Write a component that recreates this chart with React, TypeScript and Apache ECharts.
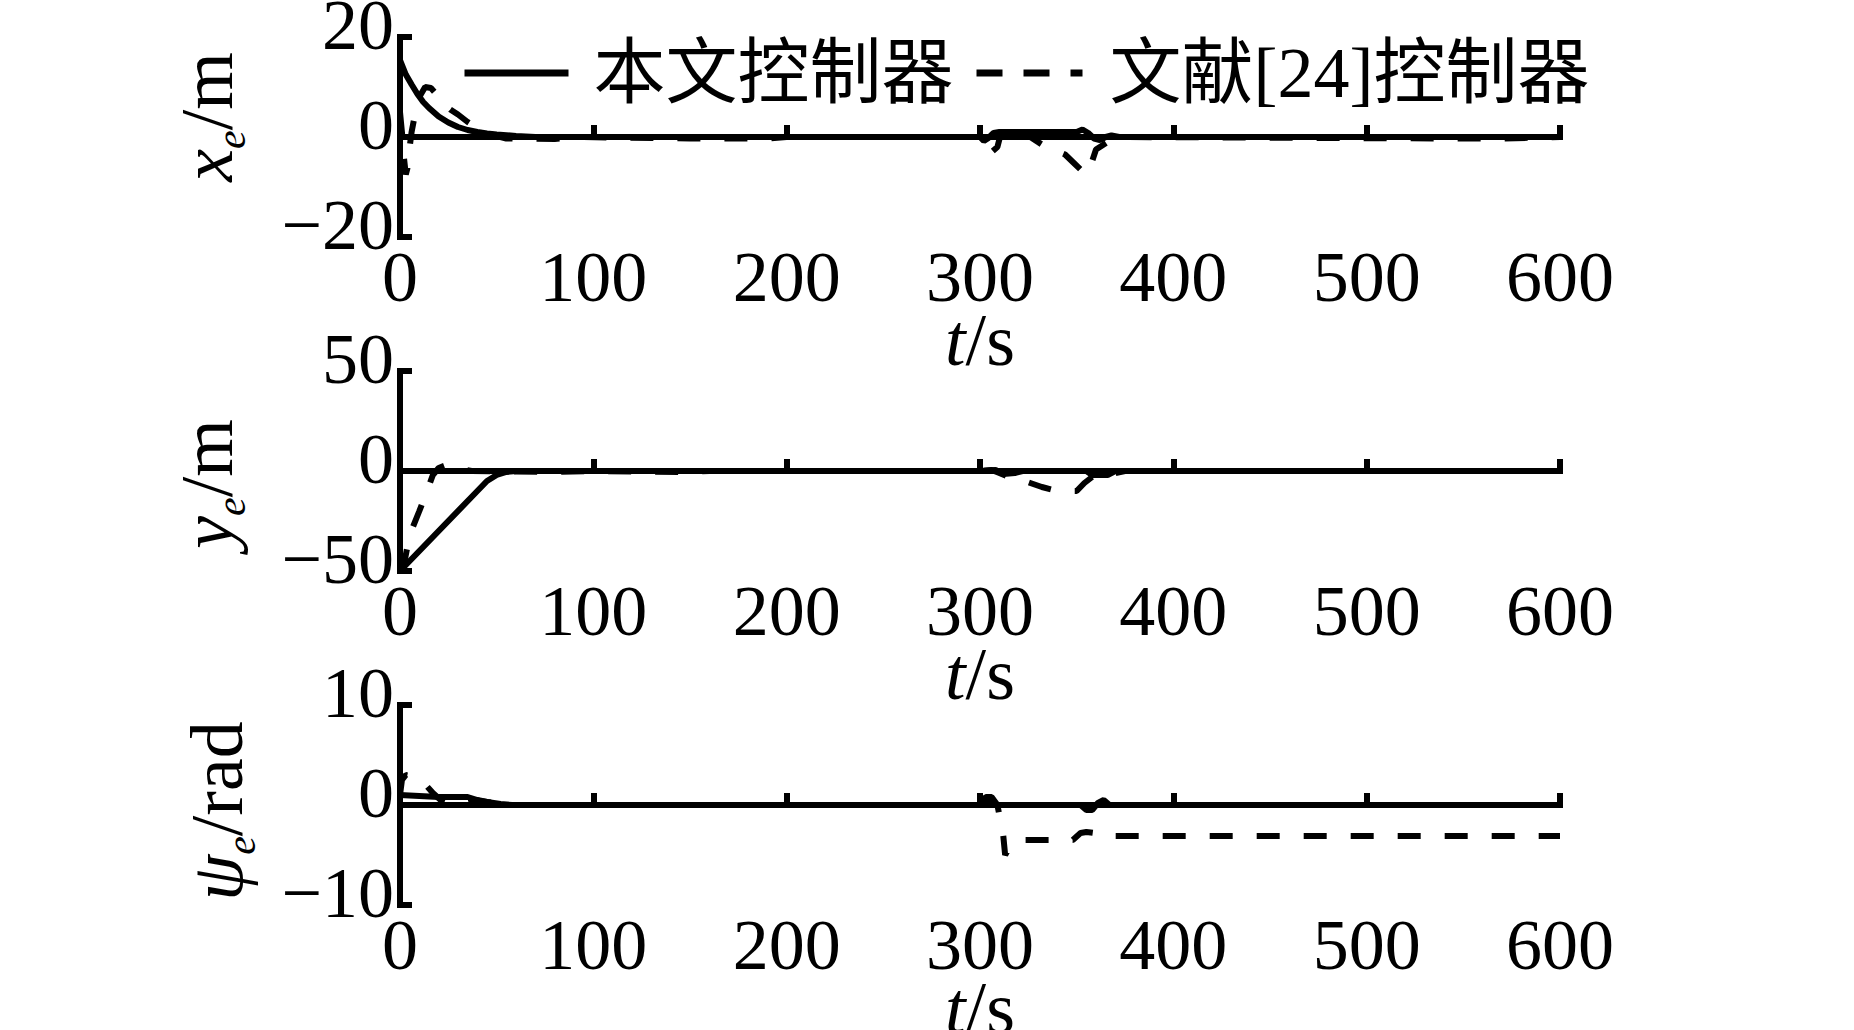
import React, { useEffect, useRef } from "react";
import * as echarts from "echarts";

// ---- tick values ----
const X_MIN = 0;
const X_MAX = 600;
const X_STEP = 100;
const XE_RANGE = [-20, 20, 20];
const YE_RANGE = [-50, 50, 50];
const PSI_RANGE = [-10, 10, 10];

const NAME_OURS = "本文控制器";
const NAME_REF = "文献[24]控制器";

// ---- panel 1: x_e (m) ----
const xeOursT = [0, 3, 6, 9, 12, 15, 20, 25, 30, 35, 40, 45, 50, 60, 70, 300, 302, 304, 307, 310, 350, 353, 356, 359, 362, 365, 368, 372, 600];
const xeOursV = [15.4, 12.5, 10.5, 8.6, 7, 5.8, 4.1, 2.9, 2, 1.4, 1, 0.7, 0.5, 0.2, 0, 0, -0.8, -0.3, 0.8, 1, 1, 1.5, 0.8, -0.3, -0.6, 0, 0.3, 0, 0];
const xeRefT = [0, 1, 2, 3, 4, 5, 6, 8, 10, 13, 16, 19, 22, 26, 30, 35, 40, 45, 50, 55, 80, 90, 150, 190, 200, 300, 303, 306, 309, 311, 314, 318, 322, 326, 332, 338, 344, 348, 352, 355, 357, 360, 364, 368, 372, 540, 570, 600];
const xeRefV = [5, 1, -4, -7.5, -6, -2, 1, 5, 8, 10, 9.8, 8.5, 7, 5.5, 4.5, 3, 1.8, 0.8, 0.2, -0.3, -0.4, 0, -0.3, -0.3, 0, 0, 0.5, -3, -2, 1, 0, -1, 0.4, 0, -1.5, -2.5, -3.5, -5, -6.5, -7.5, -6, -2.5, -1.5, -0.5, 0, -0.3, -0.3, 0];

// ---- panel 2: y_e (m) ----
const yeOursT = [0, 40, 45, 50, 55, 60, 300, 308, 312, 318, 322, 355, 358, 366, 370, 600];
const yeOursV = [-50, -10, -5, -2, -0.5, 0, 0, 0.5, -1.5, -1, 0, 0, -2, -2, 0, 0];
const yeRefT = [0, 2, 5, 10, 14, 17, 20, 24, 28, 32, 37, 80, 100, 150, 160, 300, 306, 310, 315, 320, 326, 332, 338, 345, 350, 354, 358, 364, 368, 375, 480, 485, 490, 600];
const yeRefV = [-50, -47, -32, -20, -10, -2, 1.5, 3, 2.5, 1, 0, -0.5, 0, -0.5, 0, 0, 0.5, -1, -3, -4, -6, -8, -9.5, -10, -10, -6, -3, -3, -1.5, 0, 0, 0.5, 0, 0];

// ---- panel 3: psi_e (rad) ----
const psiOursT = [0, 10, 20, 35, 40, 45, 52, 58, 300, 303, 306, 309, 352, 355, 358, 361, 364, 367, 600];
const psiOursV = [1, 0.9, 0.8, 0.8, 0.5, 0.3, 0.1, 0, 0, 0.8, 0.8, 0, 0, -0.5, -0.5, 0.2, 0.5, 0, 0];
const psiRefT = [0, 1, 3, 8, 12, 17, 21, 25, 32, 38, 45, 52, 58, 300, 306, 309, 310, 312, 313, 315, 317, 320, 348, 352, 355, 359, 362, 366, 600];
const psiRefV = [1, 2.5, 3, 2.8, 2.3, 1.2, 0.5, 0.2, 0.2, 0.5, 0.3, 0.1, 0, 0, 0.5, 0, -1, -3, -5, -4.3, -3.8, -3.5, -3.5, -2.8, -2.7, -2.8, -2.7, -3.1, -3.1];

const SERIF = "'Liberation Serif', 'Times New Roman', serif";
const MIXED = "'Liberation Serif', 'Noto Sans CJK SC', serif";

const pairs = (t: number[], v: number[]) => t.map((ti, i) => [ti, v[i]]);
const fmt = (v: number) => (v < 0 ? "\u2212" + Math.abs(v) : String(v));

export default function App() {
  const ref = useRef<HTMLDivElement>(null);
  useEffect(() => {
    if (!ref.current) return;
    const chart = echarts.init(ref.current, null, { renderer: "svg" });
    const tops = [37, 371, 705];
    const grids = tops.map((top) => ({ left: 400, width: 1160, top, height: 200, outerBoundsMode: "none", containLabel: false }));
    const axisLine = { show: true, lineStyle: { color: "#000", width: 6, cap: "square" } };
    const tick = { show: true, inside: true, length: 12, lineStyle: { color: "#000", width: 6 } };
    const richBase = {
      i: { fontFamily: SERIF, fontStyle: "italic", fontSize: 74, lineHeight: 90, color: "#000", verticalAlign: "middle" },
      s: { fontFamily: SERIF, fontStyle: "italic", fontSize: 42, lineHeight: 40, color: "#000", verticalAlign: "bottom" },
      n: { fontFamily: SERIF, fontSize: 74, lineHeight: 90, color: "#000", verticalAlign: "middle" },
    };
    const xAxes = tops.map((_, k) => ({
      type: "value",
      gridIndex: k,
      min: X_MIN,
      max: X_MAX,
      interval: X_STEP,
      axisLine,
      axisTick: tick,
      splitLine: { show: false },
      axisLabel: { fontFamily: SERIF, fontSize: 72, color: "#000", margin: 4 },
      name: "{i|t}{n|/s}",
      nameLocation: "middle",
      nameGap: 58,
      nameMoveOverlap: false,
      nameTextStyle: { rich: richBase },
    }));
    const ranges = [XE_RANGE, YE_RANGE, PSI_RANGE];
    const names = ["{i|x}{s|e}{n|/m}", "{i|y}{s|e}{n|/m}", "{i|ψ}{s|e}{n|/rad}"];
    const gaps = [148, 148, 138];
    const namePads = [[0, 0, 0, 40], [0, 26, 0, 0], [0, 12, 0, 0]];
    const yAxes = ranges.map((r, k) => ({
      type: "value",
      gridIndex: k,
      min: r[0],
      max: r[1],
      interval: r[2],
      axisLine,
      axisTick: tick,
      splitLine: { show: false },
      axisLabel: {
        fontFamily: SERIF,
        fontSize: 72,
        color: "#000",
        margin: 6,
        formatter: fmt,
        verticalAlign: "bottom",
        lineHeight: 24,
      },
      name: names[k],
      nameLocation: "middle",
      nameRotate: 90,
      nameGap: gaps[k],
      nameMoveOverlap: false,
      nameTextStyle: { rich: richBase, padding: namePads[k] },
    }));
    const dataSets = [
      [pairs(xeOursT, xeOursV), pairs(xeRefT, xeRefV)],
      [pairs(yeOursT, yeOursV), pairs(yeRefT, yeRefV)],
      [pairs(psiOursT, psiOursV), pairs(psiRefT, psiRefV)],
    ];
    const series: any[] = [];
    dataSets.forEach((ds, k) => {
      series.push({
        type: "line",
        name: NAME_OURS,
        xAxisIndex: k,
        yAxisIndex: k,
        data: ds[0],
        symbol: "none",
        lineStyle: { color: "#000", width: 6, type: "solid" },
        itemStyle: { color: "#000" },
      });
      series.push({
        type: "line",
        name: NAME_REF,
        xAxisIndex: k,
        yAxisIndex: k,
        data: ds[1],
        symbol: "none",
        lineStyle: { color: "#000", width: 6, type: [23, 24] },
        itemStyle: { color: "#000" },
      });
    });
    const legendText = { fontFamily: MIXED, fontSize: 72, color: "#000" };
    chart.setOption({
      animation: false,
      backgroundColor: "#fff",
      grid: grids,
      xAxis: xAxes,
      yAxis: yAxes,
      legend: [
        {
          data: [NAME_OURS],
          left: 461,
          top: 37,
          padding: 0,
          itemWidth: 104,
          itemHeight: 20,
          textStyle: { ...legendText, padding: [0, 0, 0, 20] },
          itemStyle: { opacity: 0 },
          lineStyle: { width: 7, type: "solid" },
        },
        {
          data: [NAME_REF],
          left: 973,
          top: 37,
          padding: 0,
          itemWidth: 106,
          itemHeight: 20,
          textStyle: { ...legendText, padding: [0, 0, 0, 22] },
          itemStyle: { opacity: 0 },
          lineStyle: { width: 7, type: [26, 21] },
        },
      ],
      series,
    });
    return () => chart.dispose();
  }, []);
  return (
    <div
      ref={ref}
      style={{ position: "fixed", left: 0, top: 0, width: 1854, height: 1030, background: "#fff" }}
    />
  );
}
